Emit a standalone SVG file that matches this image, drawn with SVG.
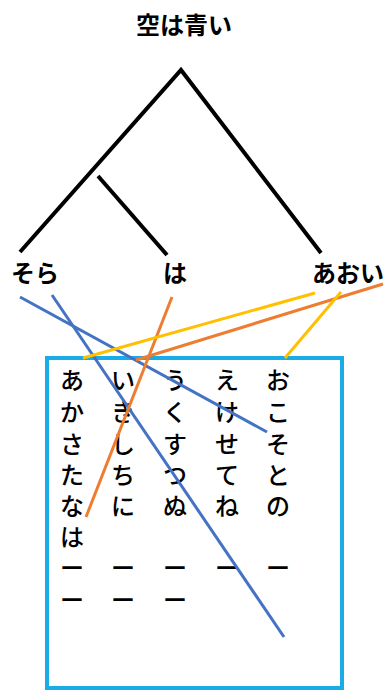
<svg xmlns="http://www.w3.org/2000/svg" width="387" height="691" viewBox="0 0 387 691">
<style>
text{font-family:"Noto Sans CJK JP","Noto Sans CJK SC",sans-serif;font-weight:bold;fill:#000}
.t{font-size:24px;text-anchor:middle}
.k{font-size:24px;font-weight:500;text-anchor:middle}
.tree{stroke:#000;stroke-width:4;fill:none}
.c{stroke-width:3;fill:none}
.b{stroke:#4472c4}.o{stroke:#ed7d31}.y{stroke:#ffc000}
</style>
<rect width="387" height="691" fill="#fff"/>
<g id="title"><text class="t" x="184" y="34">空は青い</text></g>
<g id="tree">
<polyline class="tree" points="20,252 181,70 321,253"/>
<line class="tree" x1="98" y1="176" x2="167" y2="255"/>
</g>
<g id="sora"><text class="t" x="35" y="282">そら</text></g>
<g id="ha"><text class="t" x="175" y="282">は</text></g>
<g id="aoi"><text class="t" x="348" y="282">あおい</text></g>
<g id="box">
<rect x="47" y="358" width="295" height="330" fill="none" stroke="#1aace6" stroke-width="4"/>
<g class="kana">
<text class="k" x="72" y="389">あ</text><text class="k" x="72" y="421">か</text><text class="k" x="72" y="453">さ</text><text class="k" x="72" y="484">た</text><text class="k" x="72" y="515">な</text><text class="k" x="72" y="546">は</text><text class="k" x="72" y="577">ー</text><text class="k" x="72" y="609">ー</text>
<text class="k" x="123" y="389">い</text><text class="k" x="123" y="421">き</text><text class="k" x="123" y="453">し</text><text class="k" x="123" y="484">ち</text><text class="k" x="123" y="515">に</text><text class="k" x="123" y="577">ー</text><text class="k" x="123" y="609">ー</text>
<text class="k" x="175" y="389">う</text><text class="k" x="175" y="421">く</text><text class="k" x="175" y="453">す</text><text class="k" x="175" y="484">つ</text><text class="k" x="175" y="515">ぬ</text><text class="k" x="175" y="577">ー</text><text class="k" x="175" y="609">ー</text>
<text class="k" x="227" y="389">え</text><text class="k" x="227" y="421">け</text><text class="k" x="227" y="453">せ</text><text class="k" x="227" y="484">て</text><text class="k" x="227" y="515">ね</text><text class="k" x="227" y="577">ー</text>
<text class="k" x="278" y="389">お</text><text class="k" x="278" y="421">こ</text><text class="k" x="278" y="453">そ</text><text class="k" x="278" y="484">と</text><text class="k" x="278" y="515">の</text><text class="k" x="278" y="577">ー</text>
</g>
</g>
<g id="connectors">
<line class="c b" x1="20" y1="297" x2="267" y2="432"/>
<line class="c b" x1="52" y1="295" x2="284" y2="637"/>
<line class="c o" x1="172" y1="297" x2="86" y2="517"/>
<line class="c o" x1="383" y1="284" x2="136" y2="360"/>
<line class="c y" x1="315" y1="293" x2="83" y2="358"/>
<line class="c y" x1="341" y1="292" x2="285" y2="358"/>
</g>
</svg>
